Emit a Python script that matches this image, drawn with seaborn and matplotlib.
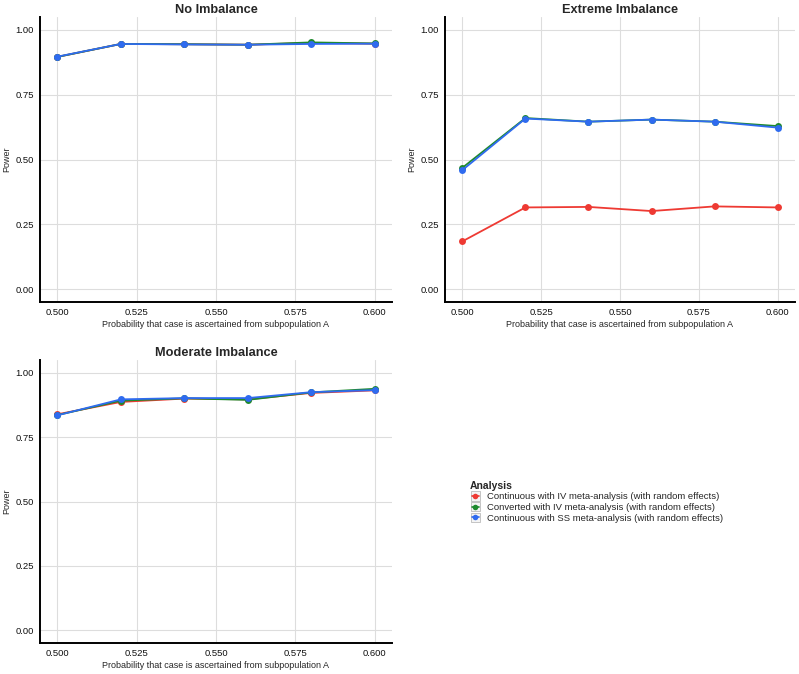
import matplotlib
matplotlib.use("Agg")
import matplotlib.pyplot as plt
import seaborn as sns
import pandas as pd
from matplotlib.lines import Line2D
from matplotlib.patches import Rectangle
from matplotlib.legend_handler import HandlerBase

prob = [0.50, 0.52, 0.54, 0.56, 0.58, 0.60]
analyses = ["Continuous with IV meta-analysis (with random effects)",
            "Converted with IV meta-analysis (with random effects)",
            "Continuous with SS meta-analysis (with random effects)"]
panels = ["No Imbalance", "Extreme Imbalance", "Moderate Imbalance"]

no_red   = [0.896, 0.946, 0.945, 0.943, 0.950, 0.947]
no_green = [0.896, 0.946, 0.945, 0.943, 0.952, 0.948]
no_blue  = [0.897, 0.946, 0.944, 0.943, 0.946, 0.947]

ex_red   = [0.184, 0.315, 0.317, 0.301, 0.319, 0.315]
ex_green = [0.468, 0.660, 0.646, 0.654, 0.646, 0.629]
ex_blue  = [0.459, 0.658, 0.646, 0.654, 0.646, 0.623]

mo_red   = [0.839, 0.887, 0.900, 0.897, 0.922, 0.932]
mo_green = [0.836, 0.892, 0.901, 0.895, 0.924, 0.938]
mo_blue  = [0.835, 0.897, 0.902, 0.902, 0.925, 0.933]

series = {
    "No Imbalance": [no_red, no_green, no_blue],
    "Extreme Imbalance": [ex_red, ex_green, ex_blue],
    "Moderate Imbalance": [mo_red, mo_green, mo_blue],
}

rows = []
for p in panels:
    for a, vals in zip(analyses, series[p]):
        for x, v in zip(prob, vals):
            rows.append({"panel": p, "Analysis": a, "prob": x, "Power": v})
df = pd.DataFrame(rows)

colors = ["#EE3A33", "#1E8A2E", "#2F6BEF"]
palette = dict(zip(analyses, colors))

sns.set_style("white")
plt.rcParams["font.family"] = ["Liberation Sans", "DejaVu Sans"]

fig = plt.figure(figsize=(7.99, 6.74), dpi=100)
W, H = 799, 674

def add_ax(l, r, t, b):
    return fig.add_axes([l / W, (H - b) / H, (r - l) / W, (b - t) / H])

axes = {
    "No Imbalance": add_ax(40, 392, 17, 302),
    "Extreme Imbalance": add_ax(445, 795, 17, 302),
    "Moderate Imbalance": add_ax(40, 392, 360, 643),
}

for p, ax in axes.items():
    sub = df[df["panel"] == p]
    sns.lineplot(data=sub, x="prob", y="Power", hue="Analysis", palette=palette,
                 hue_order=analyses, marker="o", markersize=5, markeredgewidth=0,
                 linewidth=1.3, ax=ax, legend=False)
    ax.set_xlim(0.4945, 0.6055)
    ax.set_ylim(-0.05, 1.05)
    ax.set_xticks([0.500, 0.525, 0.550, 0.575, 0.600])
    ax.set_xticklabels(["0.500", "0.525", "0.550", "0.575", "0.600"])
    ax.set_yticks([0, 0.25, 0.5, 0.75, 1.0])
    ax.set_yticklabels(["0.00", "0.25", "0.50", "0.75", "1.00"])
    ax.grid(True, color="#DDDDDD", linewidth=0.8)
    ax.set_axisbelow(True)
    for s in ["top", "right"]:
        ax.spines[s].set_visible(False)
    for s in ["left", "bottom"]:
        ax.spines[s].set_color("black")
        ax.spines[s].set_linewidth(1.4)
    ax.tick_params(axis="both", labelsize=6.8, length=2.5, width=0.8, color="#333333",
                   labelcolor="#111111", pad=2)
    ax.set_title(p, fontsize=9.2, fontweight="bold", pad=3)
    ax.set_ylabel("Power", fontsize=6.5, labelpad=3)
    ax.set_xlabel("Probability that case is ascertained from subpopulation A", fontsize=6.5, labelpad=2)


class BoxedHandler(HandlerBase):
    def create_artists(self, legend, orig_handle, xdescent, ydescent, width, height,
                       fontsize, trans):
        side = height * 1.4
        x0 = -xdescent + (width - side) / 2
        y0 = -ydescent + (height - side) / 2
        rect = Rectangle((x0, y0), side, side, facecolor="#F4F4F4",
                         edgecolor="#BBBBBB", linewidth=0.6, transform=trans)
        ym = -ydescent + height / 2
        line = Line2D([x0 + 0.8, x0 + side - 0.8], [ym, ym], color=orig_handle.get_color(),
                      linewidth=1.2, transform=trans)
        mk = Line2D([x0 + side / 2], [ym], color=orig_handle.get_color(), marker="o",
                    markersize=4, markeredgewidth=0, linestyle="none", transform=trans)
        return [rect, line, mk]


handles = [Line2D([0], [0], color=c, marker="o", markersize=4, markeredgewidth=0, linewidth=1.2)
           for c in colors]
leg = fig.legend(handles, analyses, title="Analysis", loc="upper left",
                 bbox_to_anchor=(463 / W, 1 - 474 / H), frameon=False,
                 fontsize=6.8, title_fontsize=7.5, handlelength=1.2,
                 handletextpad=0.6, labelspacing=0.18, borderpad=0.2,
                 handler_map={Line2D: BoxedHandler()})
leg.get_title().set_fontweight("bold")
leg._legend_box.align = "left"

fig.savefig("out.png", dpi=100)
